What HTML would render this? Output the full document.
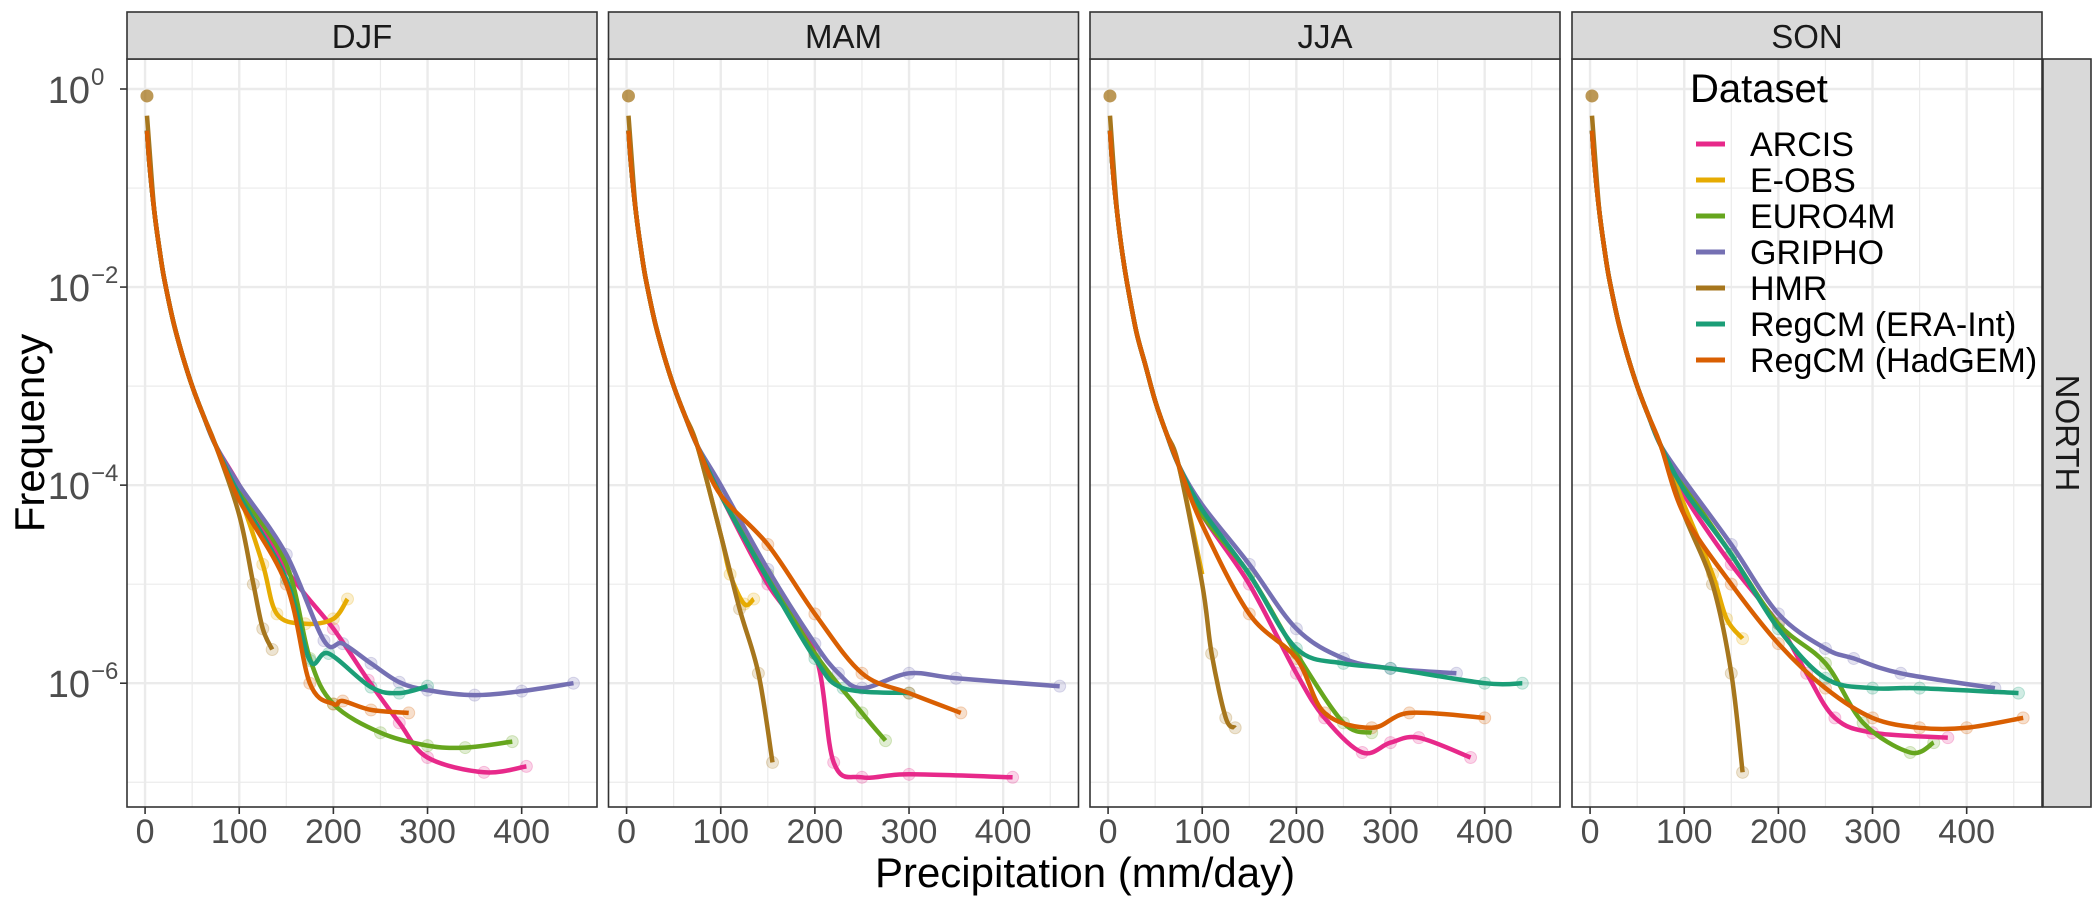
<!DOCTYPE html>
<html><head><meta charset="utf-8"><style>
html,body{margin:0;padding:0;background:#fff;}
svg{display:block;font-family:"Liberation Sans",Arial,sans-serif;}
</style></head><body>
<svg id="chart" width="2100" height="901" viewBox="0 0 2100 901" xmlns="http://www.w3.org/2000/svg"></svg>
<script>
const seasons = ["DJF","MAM","JJA","SON"];
const seriesNames = ["ARCIS","E-OBS","EURO4M","GRIPHO","HMR","RegCM (ERA-Int)","RegCM (HadGEM)"];
const seriesColors = ["#e7298a","#e6ab02","#66a61e","#7570b3","#a6761d","#1b9e77","#d95f02"];
const xTicks = [0,100,200,300,400];
const xTickLabels = ["0","100","200","300","400"];
const yTicks = [0,-2,-4,-6];
const yTickExps = ["0","\u22122","\u22124","\u22126"];
const headDJF = [[2,-0.42],[5,-0.8],[10,-1.25],[15,-1.6],[20,-1.9],[30,-2.35],[40,-2.7],[50,-3.0],[62,-3.3],[75,-3.6]];
const headMAM = [[2,-0.42],[5,-0.8],[10,-1.25],[15,-1.6],[20,-1.9],[30,-2.35],[40,-2.7],[50,-3.0],[62,-3.3],[75,-3.6]];
const headJJA = [[2,-0.42],[5,-0.82],[10,-1.28],[15,-1.65],[20,-1.95],[30,-2.45],[40,-2.8],[50,-3.15],[62,-3.48],[75,-3.8]];
const headSON = [[2,-0.42],[5,-0.8],[10,-1.25],[15,-1.6],[20,-1.9],[30,-2.35],[40,-2.7],[50,-3.0],[62,-3.3],[75,-3.6]];
const heads = [headDJF, headMAM, headJJA, headSON];
const djf = [
 [[100,-4.0],[150,-4.85],[200,-5.45],[237,-5.97],[270,-6.4],[300,-6.75],[360,-6.9],[405,-6.84]],
 [[100,-4.1],[125,-4.8],[140,-5.3],[170,-5.4],[200,-5.35],[215,-5.15]],
 [[100,-4.05],[150,-4.8],[175,-5.75],[200,-6.21],[250,-6.5],[300,-6.63],[340,-6.65],[390,-6.59]],
 [[100,-4.0],[150,-4.7],[190,-5.57],[210,-5.6],[240,-5.8],[270,-5.99],[300,-6.07],[350,-6.12],[400,-6.08],[455,-6.0]],
 [[100,-4.3],[115,-5.0],[125,-5.45],[135,-5.66]],
 [[100,-4.1],[150,-4.95],[175,-5.77],[195,-5.7],[240,-6.04],[270,-6.1],[300,-6.03]],
 [[100,-4.15],[150,-5.0],[175,-6.0],[200,-6.21],[210,-6.18],[240,-6.27],[280,-6.3]]
];
const mam = [
 [[100,-4.1],[150,-5.0],[200,-5.7],[220,-6.8],[250,-6.95],[300,-6.92],[410,-6.95]],
 [[100,-4.5],[110,-4.9],[125,-5.2],[135,-5.15]],
 [[100,-4.1],[150,-4.9],[200,-5.7],[250,-6.3],[275,-6.58]],
 [[100,-4.0],[150,-4.85],[200,-5.6],[225,-5.9],[250,-6.05],[300,-5.9],[350,-5.95],[460,-6.03]],
 [[100,-4.5],[120,-5.25],[140,-5.9],[155,-6.8]],
 [[100,-4.1],[150,-4.95],[200,-5.75],[230,-6.05],[300,-6.1]],
 [[100,-4.1],[150,-4.6],[200,-5.3],[250,-5.9],[300,-6.1],[355,-6.3]]
];
const jja = [
 [[100,-4.3],[150,-5.0],[200,-5.9],[230,-6.35],[270,-6.7],[300,-6.6],[330,-6.55],[385,-6.75]],
 [[100,-4.9]],
 [[100,-4.3],[150,-4.9],[200,-5.7],[250,-6.4],[280,-6.5]],
 [[100,-4.2],[150,-4.8],[200,-5.45],[250,-5.75],[300,-5.85],[370,-5.9]],
 [[100,-5.0],[110,-5.7],[125,-6.35],[135,-6.45]],
 [[100,-4.25],[150,-4.9],[200,-5.65],[250,-5.8],[300,-5.85],[400,-6.0],[440,-6.0]],
 [[100,-4.4],[150,-5.3],[200,-5.75],[230,-6.3],[280,-6.45],[320,-6.3],[400,-6.35]]
];
const son = [
 [[100,-4.1],[150,-4.8],[200,-5.4],[230,-5.9],[260,-6.35],[300,-6.5],[380,-6.55]],
 [[100,-4.2],[130,-4.9],[145,-5.35],[162,-5.55]],
 [[100,-4.0],[150,-4.7],[200,-5.4],[250,-5.8],[290,-6.4],[340,-6.7],[365,-6.6]],
 [[100,-3.95],[150,-4.6],[200,-5.3],[250,-5.65],[280,-5.75],[330,-5.9],[430,-6.05]],
 [[100,-4.3],[130,-5.0],[150,-5.9],[162,-6.9]],
 [[100,-4.05],[150,-4.7],[200,-5.45],[250,-5.95],[300,-6.05],[350,-6.05],[455,-6.1]],
 [[100,-4.3],[150,-5.0],[200,-5.6],[250,-6.05],[300,-6.35],[350,-6.45],[400,-6.45],[460,-6.35]]
];
const panelData = [djf, mam, jja, son];
const hmrTopPoint = [2,-0.07];

const NS = "http://www.w3.org/2000/svg";
const svg = document.getElementById("chart");
function mk(tag, attrs, parent){const e=document.createElementNS(NS,tag);for(const k in attrs)e.setAttribute(k,attrs[k]);(parent||svg).appendChild(e);return e;}

const panelLefts = [127,608.5,1090,1572];
const PW = 470, PT = 59, PB = 807;
const X0 = -19.2, X1 = 480, YT = 0.303, YB = -7.25;
function sx(p, v){return panelLefts[p] + (v - X0)/(X1 - X0)*PW;}
function sy(v){return PT + (YT - v)/(YT - YB)*(PB-PT);}
function smooth(pts){
  let d = "M"+pts[0][0].toFixed(1)+","+pts[0][1].toFixed(1);
  for(let i=0;i<pts.length-1;i++){
    const p0=pts[Math.max(i-1,0)],p1=pts[i],p2=pts[i+1],p3=pts[Math.min(i+2,pts.length-1)];
    const c1=[p1[0]+(p2[0]-p0[0])/6,p1[1]+(p2[1]-p0[1])/6];
    const c2=[p2[0]-(p3[0]-p1[0])/6,p2[1]-(p3[1]-p1[1])/6];
    d+=" C"+c1[0].toFixed(1)+","+c1[1].toFixed(1)+" "+c2[0].toFixed(1)+","+c2[1].toFixed(1)+" "+p2[0].toFixed(1)+","+p2[1].toFixed(1);
  }
  return d;
}

seasons.forEach((s,p)=>{
  const L = panelLefts[p];
  const g = mk("g",{});
  
  
  mk("rect",{x:L,y:PT,width:PW,height:PB-PT,fill:"#fff"},g);
  [50,150,250,350,450].forEach(v=>mk("line",{x1:sx(p,v),x2:sx(p,v),y1:PT,y2:PB,stroke:"#ebebeb","stroke-width":1.2},g));
  [-1,-3,-5,-7].forEach(v=>mk("line",{x1:L,x2:L+PW,y1:sy(v),y2:sy(v),stroke:"#ebebeb","stroke-width":1.2},g));
  xTicks.forEach(v=>mk("line",{x1:sx(p,v),x2:sx(p,v),y1:PT,y2:PB,stroke:"#ebebeb","stroke-width":2.4},g));
  yTicks.forEach(v=>mk("line",{x1:L,x2:L+PW,y1:sy(v),y2:sy(v),stroke:"#ebebeb","stroke-width":2.4},g));
  panelData[p].forEach((ser,si)=>{
    ser.forEach(pt=>{
      if(pt[0]>100){
        const c = mk("circle",{cx:sx(p,pt[0]),cy:sy(pt[1]),r:6,fill:seriesColors[si],"fill-opacity":0.2,stroke:seriesColors[si],"stroke-opacity":0.25},g);
        
        
      }
    });
  });
  const top = mk("circle",{cx:sx(p,hmrTopPoint[0]),cy:sy(hmrTopPoint[1]),r:6.5,fill:seriesColors[4],"fill-opacity":0.75},g);
  
  
  panelData[p].forEach((ser,si)=>{
    const all = heads[p].map(h=>[h[0],h[1]+(si===4&&h[0]<=5?0.15:0)]).concat(ser);
    const pts = all.map(q=>[sx(p,q[0]),sy(q[1])]);
    const path = mk("path",{d:smooth(pts),fill:"none",stroke:seriesColors[si],"stroke-width":4.5,"stroke-linecap":"butt"},g);
    
    
  });
  mk("rect",{x:L,y:PT,width:PW,height:PB-PT,fill:"none",stroke:"#333","stroke-width":1.6},g);
  const st = mk("rect",{x:L,y:12,width:PW,height:PT-12,fill:"#d9d9d9",stroke:"#333","stroke-width":1.6});
  
  
  const stt = mk("text",{x:L+PW/2,y:48,"text-anchor":"middle","font-size":33,fill:"#1a1a1a"});
  stt.textContent = s;
  
  
  xTicks.forEach((v,i)=>{
    mk("line",{x1:sx(p,v),x2:sx(p,v),y1:PB,y2:PB+7,stroke:"#333","stroke-width":1.6});
    const t = mk("text",{x:sx(p,v),y:843,"text-anchor":"middle","font-size":34,fill:"#4d4d4d"});
    t.textContent = xTickLabels[i];
    
    
  });
});
yTicks.forEach((v,i)=>{
  mk("line",{x1:120,x2:127,y1:sy(v),y2:sy(v),stroke:"#333","stroke-width":1.6});
  const t = mk("text",{x:90,y:sy(v)+14,"text-anchor":"end","font-size":38,fill:"#4d4d4d"});
  t.textContent = "10";
  
  
  const e = mk("text",{x:91,y:sy(v)-4,"text-anchor":"start","font-size":24,fill:"#4d4d4d"});
  e.textContent = yTickExps[i];
  
  
});
const rs = mk("rect",{x:2043,y:PT,width:48,height:PB-PT,fill:"#d9d9d9",stroke:"#333","stroke-width":1.6});


const rst = mk("text",{x:2056,y:433,"text-anchor":"middle","font-size":33,fill:"#1a1a1a",transform:"rotate(90 2056 433)"});
rst.textContent = "NORTH";


const xt = mk("text",{x:1085,y:887,"text-anchor":"middle","font-size":42,fill:"#000"});
xt.textContent = "Precipitation (mm/day)";


const yt = mk("text",{x:44,y:433,"text-anchor":"middle","font-size":42,fill:"#000",transform:"rotate(-90 44 433)"});
yt.textContent = "Frequency";


const lg = mk("g",{});


const lt = mk("text",{x:1690,y:102,"font-size":40,fill:"#000"},lg);
lt.textContent = "Dataset";


seriesNames.forEach((n,i)=>{
  const y = 144 + i*36;
  const k = mk("line",{x1:1696,x2:1725,y1:y,y2:y,stroke:seriesColors[i],"stroke-width":5},lg);
  
  
  const t = mk("text",{x:1750,y:y+12,"font-size":34,fill:"#000"},lg);
  t.textContent = n;
  
  
});
</script>
</body></html>
